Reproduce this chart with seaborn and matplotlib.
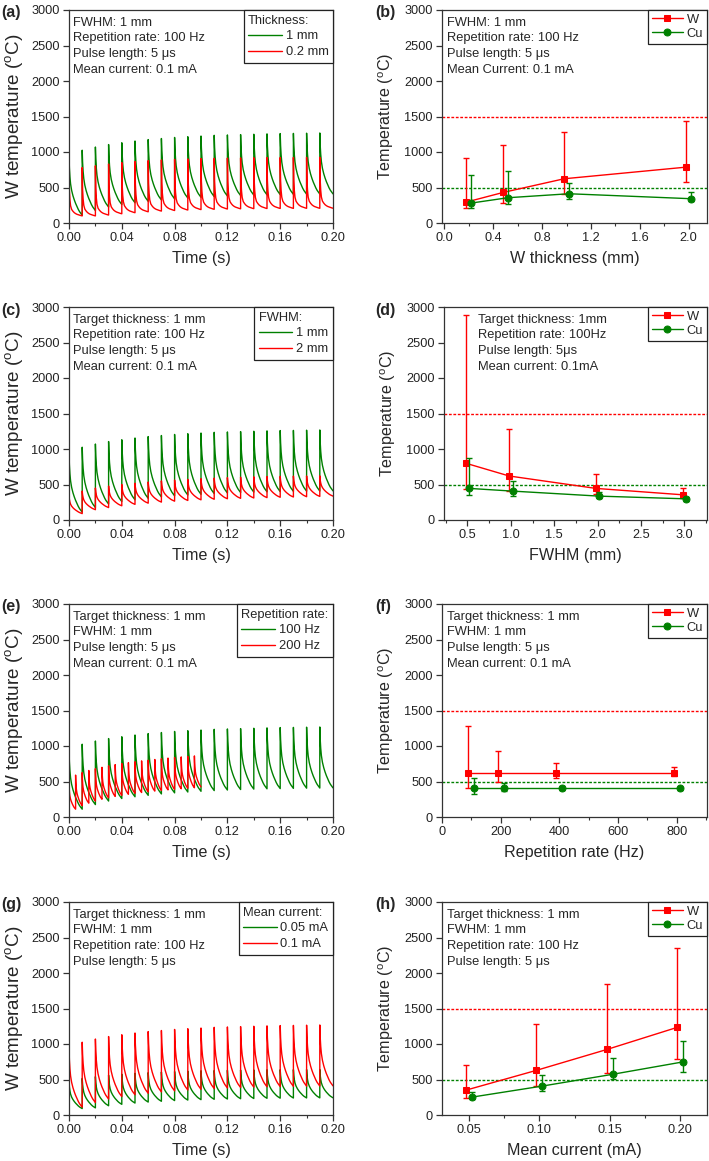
import numpy as np
import pandas as pd
import matplotlib.pyplot as plt
import seaborn as sns

# ---- time traces ----
# peak after each pulse, and value just before the next pulse
w1mm_peaks = [940, 1025, 1070, 1105, 1130, 1155, 1175, 1190, 1205, 1215,
              1225, 1235, 1240, 1245, 1250, 1255, 1260, 1262, 1265, 1268]
w1mm_troughs = [110, 175, 225, 260, 285, 305, 325, 340, 352, 362,
                372, 380, 387, 393, 397, 400, 403, 406, 408, 410]

w02mm_peaks = [750, 780, 805, 830, 850, 865, 878, 888, 896, 902,
               907, 911, 914, 917, 919, 921, 922, 923, 924, 925]
w02mm_troughs = [100, 100, 112, 130, 145, 158, 168, 176, 183, 189,
                 193, 197, 200, 202, 204, 205, 206, 207, 207, 208]

fwhm2_peaks = [340, 407, 450, 478, 500, 518, 535, 550, 562, 572,
               582, 590, 597, 603, 608, 612, 615, 618, 620, 622]
fwhm2_troughs = [90, 145, 175, 200, 220, 237, 252, 265, 275, 284,
                 292, 299, 305, 310, 315, 320, 324, 328, 332, 336]

rep200_peaks = [480, 590, 625, 655, 680, 700, 720, 738, 752, 765,
                778, 790, 800, 810, 820, 830, 838, 846, 853, 860]
rep200_troughs = [110, 160, 195, 225, 250, 270, 290, 305, 320, 333,
                  345, 355, 365, 374, 382, 390, 398, 405, 412, 425]

cur005_peaks = [475, 515, 540, 560, 575, 587, 597, 605, 612, 618,
                623, 627, 630, 633, 635, 637, 638, 639, 640, 641]
cur005_troughs = [90, 100, 130, 150, 168, 182, 193, 203, 210, 216,
                  221, 225, 229, 232, 235, 237, 239, 240, 241, 242]

# decay profile between pulses (fraction of period -> fraction of swing)
decay_frac = [0, 0.03, 0.07, 0.12, 0.2, 0.3, 0.4, 0.5, 0.6, 0.7, 0.8, 0.9, 1.0]
decay_thick = [1, 0.8, 0.65, 0.53, 0.42, 0.33, 0.26, 0.2, 0.15, 0.1, 0.06, 0.03, 0]
decay_thin = [1, 0.55, 0.35, 0.22, 0.14, 0.1, 0.07, 0.05, 0.035, 0.025, 0.015, 0.007, 0]

# ---- summary panels ----
thick_x = [0.2, 0.5, 1.0, 2.0]
thick_w = [295, 430, 623, 787]
thick_w_lo = [211, 281, 410, 572]
thick_w_hi = [914, 1102, 1275, 1430]
thick_cu = [281, 356, 412, 342]
thick_cu_lo = [216, 272, 342, 315]
thick_cu_hi = [670, 727, 558, 436]

fwhm_x = [0.5, 1.0, 2.0, 3.0]
fwhm_w = [800, 620, 445, 355]
fwhm_w_lo = [440, 407, 360, 312]
fwhm_w_hi = [2882, 1287, 644, 445]
fwhm_cu = [445, 407, 336, 298]
fwhm_cu_lo = [350, 336, 303, 265]
fwhm_cu_hi = [880, 549, 393, 322]

rep_x = [100, 200, 400, 800]
rep_w = [620, 620, 620, 620]
rep_w_lo = [411, 496, 553, 581]
rep_w_hi = [1275, 930, 765, 704]
rep_cu = [405, 405, 405, 405]
rep_cu_lo = [321, 364, 378, 387]
rep_cu_hi = [553, 477, 435, 416]

cur_x = [0.05, 0.10, 0.15, 0.20]
cur_w = [350, 629, 923, 1235]
cur_w_lo = [241, 407, 596, 795]
cur_w_hi = [705, 1283, 1841, 2357]
cur_cu = [251, 407, 573, 748]
cur_cu_lo = [222, 336, 502, 606]
cur_cu_hi = [327, 558, 800, 1036]

GREEN = "#008000"
RED = "#ff0000"

sns.set_style("ticks")
plt.rcParams["font.family"] = ["Liberation Sans", "DejaVu Sans"]
plt.rcParams["mathtext.fontset"] = "custom"
plt.rcParams["mathtext.rm"] = "Liberation Sans"
plt.rcParams["mathtext.it"] = "Liberation Sans:italic"
plt.rcParams["axes.edgecolor"] = "#333333"
plt.rcParams["axes.linewidth"] = 0.9
plt.rcParams["xtick.color"] = "#333333"
plt.rcParams["ytick.color"] = "#333333"
plt.rcParams["xtick.labelcolor"] = "#222222"
plt.rcParams["ytick.labelcolor"] = "#222222"

TICK_FS = 9.2
TEXT_FS = 9.3
LABEL_FS = 11.6

W, H = 709, 1161
fig = plt.figure(figsize=(W / 100, H / 100), dpi=100)


def make_ax(left, top, width, height=213):
    return fig.add_axes([left / W, 1 - (top + height) / H, width / W, height / H])


def pulse_df(period, peaks, troughs, shape):
    t, y = [0.0], [25.0]
    for k, (pk, tr) in enumerate(zip(peaks, troughs)):
        t0 = k * period
        for f, s in zip(decay_frac, shape):
            t.append(t0 + f * period)
            y.append(tr + s * (pk - tr))
    return pd.DataFrame({"t": t, "T": y})


def style_axis(ax):
    ax.tick_params(axis="both", which="major", direction="out", length=4,
                   width=0.9, labelsize=TICK_FS, pad=2.5, top=False, right=False)
    ax.tick_params(axis="both", which="minor", direction="out", length=2.5,
                   width=0.8, top=False, right=False)
    for s in ax.spines.values():
        s.set_visible(True)
    ax.set_ylim(0, 3000)
    ax.set_yticks(np.arange(0, 3001, 500))


def time_panel(ax, series, info, legend_title):
    for df, color, label in series:
        sns.lineplot(data=df, x="t", y="T", ax=ax, color=color, lw=1.0,
                     estimator=None, sort=False, label=label)
    style_axis(ax)
    ax.set_xlim(0, 0.2)
    ax.set_xticks(np.arange(0, 0.201, 0.04))
    ax.set_xticks(np.arange(0.02, 0.2, 0.04), minor=True)
    ax.set_xticklabels([f"{v:.2f}" for v in np.arange(0, 0.201, 0.04)])
    ax.set_xlabel("Time (s)", fontsize=LABEL_FS, labelpad=5)
    ax.set_ylabel("W temperature ($^{\\mathrm{o}}$C)", fontsize=13.6, labelpad=5)
    ax.text(0.017, 0.968, info, transform=ax.transAxes, va="top", ha="left",
            fontsize=TEXT_FS, linespacing=1.4)
    leg = ax.legend(title=legend_title, loc="upper right", borderaxespad=0,
                    fontsize=TEXT_FS, title_fontsize=TEXT_FS, handlelength=2.6,
                    handletextpad=0.3, borderpad=0.35, labelspacing=0.3,
                    fancybox=False, framealpha=1, edgecolor="#222222",
                    alignment="left")
    leg.get_frame().set_linewidth(0.9)


def summary_panel(ax, x, w, wlo, whi, cu, culo, cuhi, off, info, xlabel):
    xw = [v - off for v in x]
    xc = [v + off for v in x]
    df_w = pd.DataFrame({"x": xw, "T": w})
    df_c = pd.DataFrame({"x": xc, "T": cu})
    ax.axhline(1500, color=RED, lw=1.0, ls=(0, (2, 1.2)))
    ax.axhline(500, color=GREEN, lw=1.0, ls=(0, (2, 1.2)))
    sns.lineplot(data=df_w, x="x", y="T", ax=ax, color=RED, lw=1.0,
                 marker="s", markersize=5, markeredgecolor=RED,
                 estimator=None, sort=False, label="W")
    ax.errorbar(xw, w, yerr=[np.subtract(w, wlo), np.subtract(whi, w)],
                fmt="none", ecolor=RED, elinewidth=1.0, capsize=2.5, capthick=1.0)
    sns.lineplot(data=df_c, x="x", y="T", ax=ax, color=GREEN, lw=1.0,
                 marker="o", markersize=5, markeredgecolor=GREEN,
                 estimator=None, sort=False, label="Cu")
    ax.errorbar(xc, cu, yerr=[np.subtract(cu, culo), np.subtract(cuhi, cu)],
                fmt="none", ecolor=GREEN, elinewidth=1.0, capsize=2.5, capthick=1.0)
    style_axis(ax)
    ax.set_xlabel(xlabel, fontsize=LABEL_FS, labelpad=5)
    ax.set_ylabel("Temperature ($^{\\mathrm{o}}$C)", fontsize=LABEL_FS, labelpad=6)
    ax.text(0.017, 0.968, info, transform=ax.transAxes, va="top", ha="left",
            fontsize=TEXT_FS, linespacing=1.4)
    leg = ax.legend(loc="upper right", borderaxespad=0, fontsize=TEXT_FS,
                    handlelength=2.4, handletextpad=0.3, borderpad=0.3,
                    labelspacing=0.15, fancybox=False, framealpha=1,
                    edgecolor="#222222")
    leg.get_frame().set_linewidth(0.9)


rows = [10, 307, 604, 902]
LX, LW = 69, 264
RX, RW = 442, 265

green_ref = pulse_df(0.01, w1mm_peaks, w1mm_troughs, decay_thick)

# (a)
ax = make_ax(LX, rows[0], LW)
time_panel(ax, [(green_ref, GREEN, "1 mm"),
                (pulse_df(0.01, w02mm_peaks, w02mm_troughs, decay_thin), RED, "0.2 mm")],
           "FWHM: 1 mm\nRepetition rate: 100 Hz\nPulse length: 5 μs\nMean current: 0.1 mA",
           "Thickness:")

# (b)
ax = make_ax(RX, rows[0], RW)
summary_panel(ax, thick_x, thick_w, thick_w_lo, thick_w_hi,
              thick_cu, thick_cu_lo, thick_cu_hi, 0.02,
              "FWHM: 1 mm\nRepetition rate: 100 Hz\nPulse length: 5 μs\nMean Current: 0.1 mA",
              "W thickness (mm)")
ax.set_xlim(-0.02, 2.15)
ax.set_xticks(np.arange(0, 2.01, 0.4))
ax.set_xticks(np.arange(0.2, 2.1, 0.4), minor=True)
ax.set_xticklabels([f"{v:.1f}" for v in np.arange(0, 2.01, 0.4)])

# (c)
ax = make_ax(LX, rows[1], LW)
time_panel(ax, [(green_ref, GREEN, "1 mm"),
                (pulse_df(0.01, fwhm2_peaks, fwhm2_troughs, decay_thick), RED, "2 mm")],
           "Target thickness: 1 mm\nRepetition rate: 100 Hz\nPulse length: 5 μs\nMean current: 0.1 mA",
           "FWHM:")

# (d)
ax = make_ax(444, rows[1], 263)
summary_panel(ax, fwhm_x, fwhm_w, fwhm_w_lo, fwhm_w_hi,
              fwhm_cu, fwhm_cu_lo, fwhm_cu_hi, 0.02,
              "Target thickness: 1mm\nRepetition rate: 100Hz\nPulse length: 5μs\nMean current: 0.1mA",
              "FWHM (mm)")
ax.texts[0].set_x(0.13)
ax.set_xlim(0.23, 3.26)
ax.set_xticks(np.arange(0.5, 3.01, 0.5))
ax.set_xticks(np.arange(0.25, 3.26, 0.5), minor=True)
ax.set_xticklabels([f"{v:.1f}" for v in np.arange(0.5, 3.01, 0.5)])

# (e)
ax = make_ax(LX, rows[2], LW)
time_panel(ax, [(green_ref, GREEN, "100 Hz"),
                (pulse_df(0.005, rep200_peaks, rep200_troughs, decay_thick), RED, "200 Hz")],
           "Target thickness: 1 mm\nFWHM: 1 mm\nPulse length: 5 μs\nMean current: 0.1 mA",
           "Repetition rate:")

# (f)
ax = make_ax(RX, rows[2], RW)
summary_panel(ax, rep_x, rep_w, rep_w_lo, rep_w_hi,
              rep_cu, rep_cu_lo, rep_cu_hi, 10,
              "Target thickness: 1 mm\nFWHM: 1 mm\nPulse length: 5 μs\nMean current: 0.1 mA",
              "Repetition rate (Hz)")
ax.set_xlim(0, 903)
ax.set_xticks(np.arange(0, 801, 200))
ax.set_xticks(np.arange(100, 901, 200), minor=True)

# (g)
ax = make_ax(LX, rows[3], LW)
time_panel(ax, [(pulse_df(0.01, cur005_peaks, cur005_troughs, decay_thick), GREEN, "0.05 mA"),
                (green_ref, RED, "0.1 mA")],
           "Target thickness: 1 mm\nFWHM: 1 mm\nRepetition rate: 100 Hz\nPulse length: 5 μs",
           "Mean current:")

# (h)
ax = make_ax(RX, rows[3], RW)
summary_panel(ax, cur_x, cur_w, cur_w_lo, cur_w_hi,
              cur_cu, cur_cu_lo, cur_cu_hi, 0.002,
              "Target thickness: 1 mm\nFWHM: 1 mm\nRepetition rate: 100 Hz\nPulse length: 5 μs",
              "Mean current (mA)")
ax.set_xlim(0.031, 0.219)
ax.set_xticks(np.arange(0.05, 0.201, 0.05))
ax.set_xticks(np.arange(0.075, 0.22, 0.05), minor=True)
ax.set_xticklabels([f"{v:.2f}" for v in np.arange(0.05, 0.201, 0.05)])

# panel letters
for lbl, x, top in [("(a)", 1, 10), ("(b)", 375, 10), ("(c)", 1, 307), ("(d)", 375, 307),
                    ("(e)", 1, 604), ("(f)", 375, 604), ("(g)", 1, 902), ("(h)", 375, 902)]:
    fig.text(x / W, 1 - (top + 3) / H, lbl, fontsize=11.5, fontweight="bold",
             va="center", ha="left")

fig.savefig("out.png", dpi=100)
